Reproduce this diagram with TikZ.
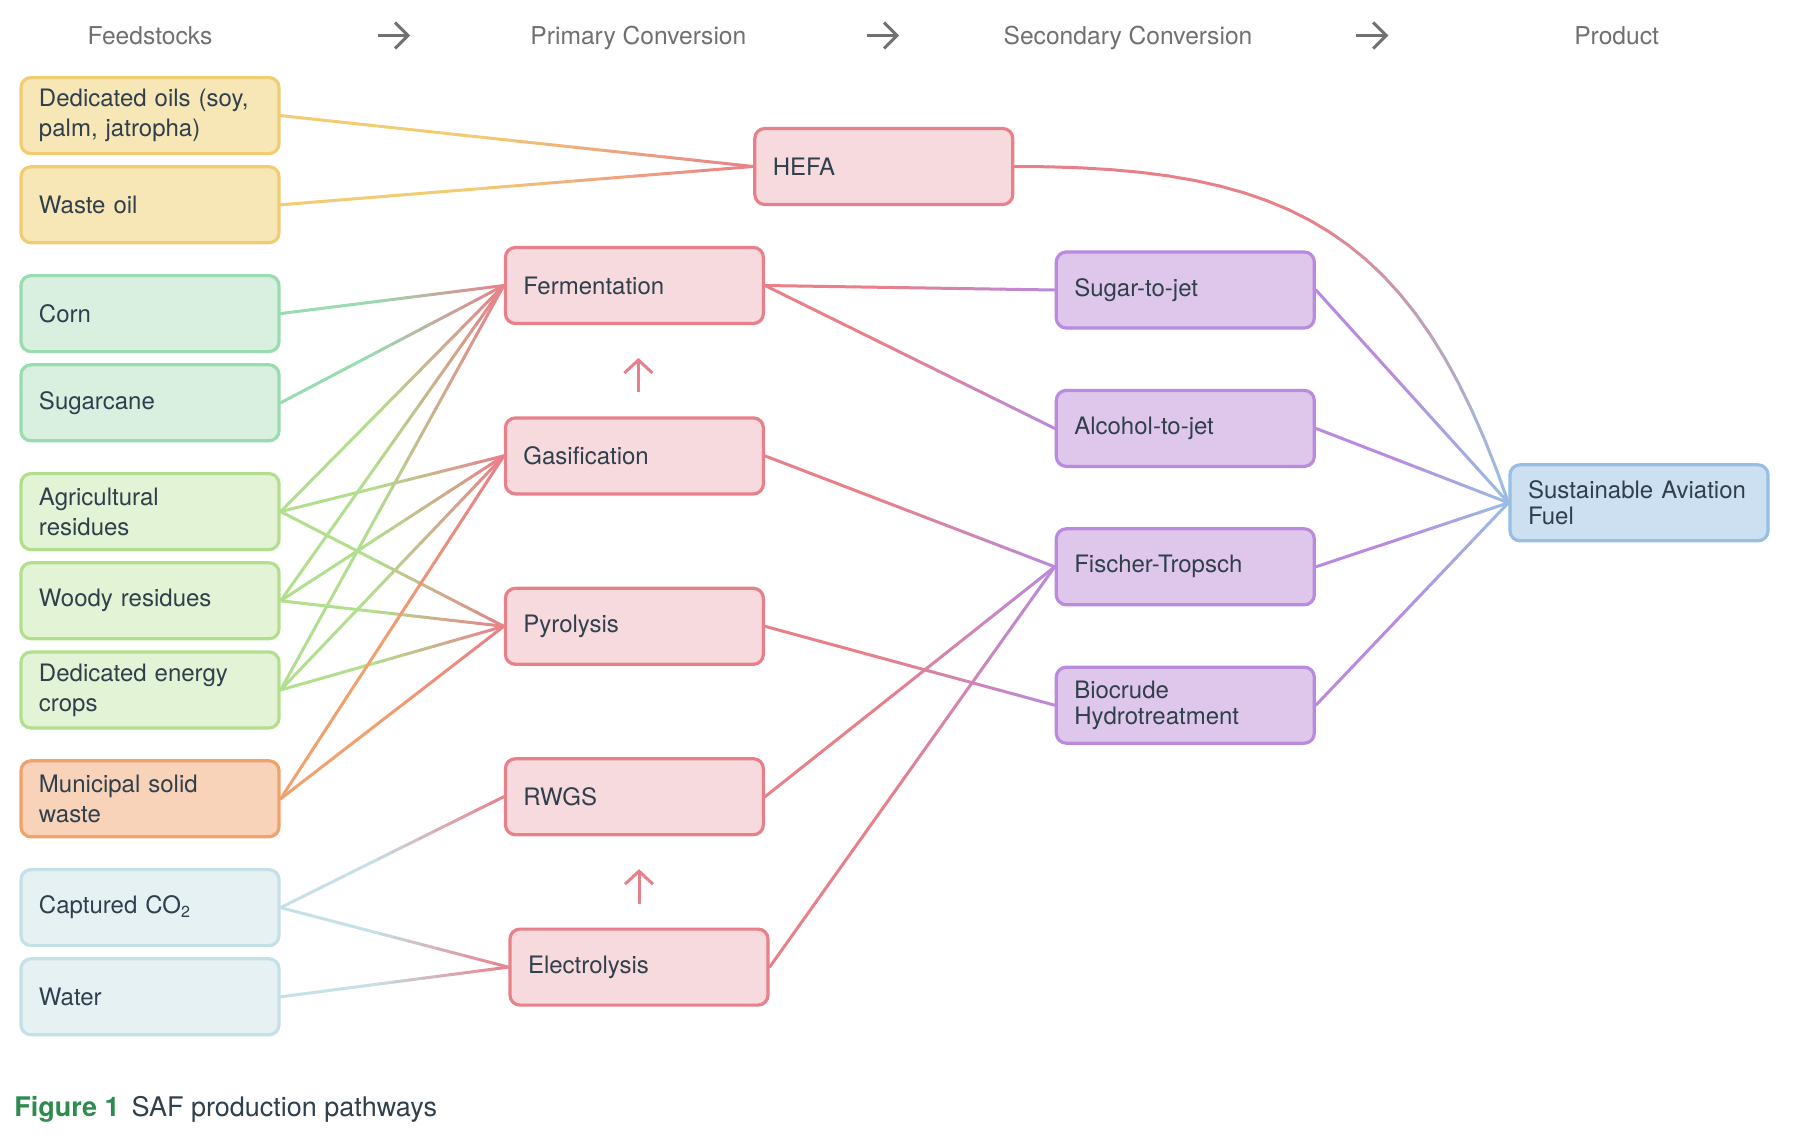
\documentclass[tikz,border=0pt]{standalone}
\usepackage{fontspec}
\setmainfont{TeX Gyre Heros}
\usepackage{tikz}
\usetikzlibrary{arrows.meta, positioning, calc}
\usepackage{xcolor}
\definecolor{ink}{HTML}{2F3F4C}
\definecolor{grey}{HTML}{707070}
\definecolor{oil}{HTML}{F2CC72}
\definecolor{oilsoft}{HTML}{F7E7B7}
\definecolor{sugar}{HTML}{98DCB0}
\definecolor{sugarsoft}{HTML}{D9F0E1}
\definecolor{ligno}{HTML}{B2DF8E}
\definecolor{lignosoft}{HTML}{E3F3D6}
\definecolor{waste}{HTML}{F1A16C}
\definecolor{wastesoft}{HTML}{F8D3B9}
\definecolor{gas}{HTML}{C5E1E7}
\definecolor{gassoft}{HTML}{E6F1F4}
\definecolor{conv}{HTML}{E8808A}
\definecolor{convsoft}{HTML}{F7DADE}
\definecolor{upgr}{HTML}{B98ADD}
\definecolor{upgrsoft}{HTML}{DFC7EC}
\definecolor{fuel}{HTML}{98BEE5}
\definecolor{fuelsoft}{HTML}{CDE0F1}
\definecolor{figgreen}{HTML}{2E8B50}

\tikzset{
  stage/.style={draw, line width=1.6pt, rounded corners=5pt, minimum width=129pt, minimum height=38pt,
    text width=111pt, inner xsep=9pt, inner ysep=0pt, align=left, text=ink, font=\fontsize{12}{15}\selectfont},
  snug/.style={font=\fontsize{12}{13}\selectfont},
  oilbox/.style={stage, draw=oil, fill=oilsoft},
  sugarbox/.style={stage, draw=sugar, fill=sugarsoft},
  lignobox/.style={stage, draw=ligno, fill=lignosoft},
  wastebox/.style={stage, draw=waste, fill=wastesoft},
  gasbox/.style={stage, draw=gas, fill=gassoft},
  convbox/.style={stage, draw=conv, fill=convsoft},
  upgrbox/.style={stage, draw=upgr, fill=upgrsoft},
  fuelbox/.style={stage, draw=fuel, fill=fuelsoft},
  head/.style={text=grey, font=\fontsize{12.3}{14}\selectfont, inner sep=0pt, anchor=base},
  headarrow/.style={draw=grey, line width=1.5pt, -{Straight Barb[length=6.5pt, width=13pt]}},
  uparrow/.style={draw=conv, line width=1.5pt, -{Straight Barb[length=6.5pt, width=14pt]}},
  link/.style={line width=1.5pt, line cap=round}
}

% link that fades from one colour to the next
\newcommand{\gradlink}[4]{%
  \foreach \k in {1,...,16}{%
    \pgfmathsetmacro{\ta}{(\k-1)/16}%
    \pgfmathsetmacro{\tb}{\k/16}%
    \pgfmathtruncatemacro{\mix}{100*min(1,max(0,((\k-0.5)/16-0.4)/0.6))}%
    \draw[link, color=#4!\mix!#3] ($(#1)!\ta!(#2)$) -- ($(#1)!\tb!(#2)$);%
  }%
}

\begin{document}
\begin{tikzpicture}[x=0.5pt, y=-0.5pt]
    \fill[white] (0,0) rectangle (1794,1146);
    \useasboundingbox (0,0) rectangle (1794,1146);

    % column heads
    \node[head] (hfeed) at (150,44.5) {Feedstocks};
    \node[head] (hprim) at (638.4,44.5) {Primary Conversion};
    \node[head] (hsec) at (1128,44.5) {Secondary Conversion};
    \node[head] (hprod) at (1616.6,44.5) {Product};
    \draw[headarrow] ($(hfeed.base)!0.5!(hprim.base)+(-8pt,4.5pt)$) -- ++(16pt,0);
    \draw[headarrow] ($(hprim.base)!0.5!(hsec.base)+(-8pt,4.5pt)$) -- ++(16pt,0);
    \draw[headarrow] ($(hsec.base)!0.5!(hprod.base)+(-8pt,4.5pt)$) -- ++(16pt,0);

    % feedstocks
    \node[oilbox] (oils) at (150,115.6) {Dedicated oils (soy,\\ palm, jatropha)};
    \node[oilbox, below=5pt of oils] (wasteoil) {Waste oil};
    \node[sugarbox, below=14.8pt of wasteoil] (corn) {Corn};
    \node[sugarbox, below=5pt of corn] (cane) {Sugarcane};
    \node[lignobox, below=14.8pt of cane] (agri) {Agricultural\\ residues};
    \node[lignobox, below=5pt of agri] (woody) {Woody residues};
    \node[lignobox, below=5pt of woody] (crops) {Dedicated energy\\ crops};
    \node[wastebox, below=14.8pt of crops] (msw) {Municipal solid\\ waste};
    \node[gasbox, below=14.8pt of msw] (co2) {Captured CO\textsubscript{2}};
    \node[gasbox, below=5pt of co2] (water) {Water};

    % primary conversion
    \node[convbox] (hefa) at (883.8,166.5) {HEFA};
    \node[convbox] (ferm) at (634.4,285.5) {Fermentation};
    \node[convbox, below=45.6pt of ferm] (gasif) {Gasification};
    \node[convbox, below=45.6pt of gasif] (pyro) {Pyrolysis};
    \node[convbox, below=45.6pt of pyro] (rwgs) {RWGS};
    \node[convbox, below=45.6pt of rwgs, xshift=2.3pt] (elec) {Electrolysis};

    % secondary conversion and product
    \node[upgrbox] (stj) at (1185.3,290) {Sugar-to-jet};
    \node[upgrbox, below=29.6pt of stj] (atj) {Alcohol-to-jet};
    \node[upgrbox, below=29.6pt of atj] (ft) {Fischer-Tropsch};
    \node[upgrbox, snug, below=29.6pt of ft] (htl) {Biocrude\\ Hydrotreatment};
    \node[fuelbox, snug] (saf) at (1639,502.8) {Sustainable Aviation\\ Fuel};

    \draw[uparrow] ([xshift=2pt]$(gasif.north)!0.27!(ferm.south)$) -- ([xshift=2pt]$(gasif.north)!0.64!(ferm.south)$);
    \draw[uparrow] ($(elec.north)!0.26!(elec.north |- rwgs.south)$) -- ($(elec.north)!0.64!(elec.north |- rwgs.south)$);

    % feedstocks to primary
    \gradlink{oils.east}{hefa.west}{oil}{conv}
    \gradlink{wasteoil.east}{hefa.west}{oil}{conv}
    \gradlink{corn.east}{ferm.west}{sugar}{conv}
    \gradlink{cane.east}{ferm.west}{sugar}{conv}
    \foreach \f in {agri, woody, crops}
      \foreach \p in {ferm, gasif, pyro}
        {\gradlink{\f.east}{\p.west}{ligno}{conv}}
    \gradlink{msw.east}{gasif.west}{waste}{conv}
    \gradlink{msw.east}{pyro.west}{waste}{conv}
    \gradlink{co2.east}{rwgs.west}{gas}{conv}
    \gradlink{co2.east}{elec.west}{gas}{conv}
    \gradlink{water.east}{elec.west}{gas}{conv}

    % primary to secondary
    \gradlink{ferm.east}{stj.west}{conv}{upgr}
    \gradlink{ferm.east}{atj.west}{conv}{upgr}
    \gradlink{gasif.east}{ft.west}{conv}{upgr}
    \gradlink{pyro.east}{htl.west}{conv}{upgr}
    \gradlink{rwgs.east}{ft.west}{conv}{upgr}
    \gradlink{elec.east}{ft.west}{conv}{upgr}

    % secondary to product
    \foreach \s in {stj, atj, ft, htl}
      {\gradlink{\s.east}{saf.west}{upgr}{fuel}}

    % HEFA goes straight to product
    \path (hefa.east) .. controls (1290,166) and (1415,230) .. (saf.west)
      foreach \k [evaluate=\k as \p using \k/24] in {0,...,24} {coordinate[pos=\p] (h\k)};
    \foreach \k [count=\j from 0] in {1,...,24}{
      \pgfmathtruncatemacro{\mix}{100*min(1,max(0,((\k-0.5)/24-0.45)/0.55))}
      \draw[link, color=fuel!\mix!conv] (h\j) -- (h\k);
    }

    \node[anchor=base west, inner sep=0pt, text=ink, font=\fontsize{13.5}{16}\selectfont] (caption) at (14,1116)
      {\textcolor{figgreen}{\bfseries Figure 1}\hspace{6pt}SAF production pathways};
\end{tikzpicture}
\end{document}
